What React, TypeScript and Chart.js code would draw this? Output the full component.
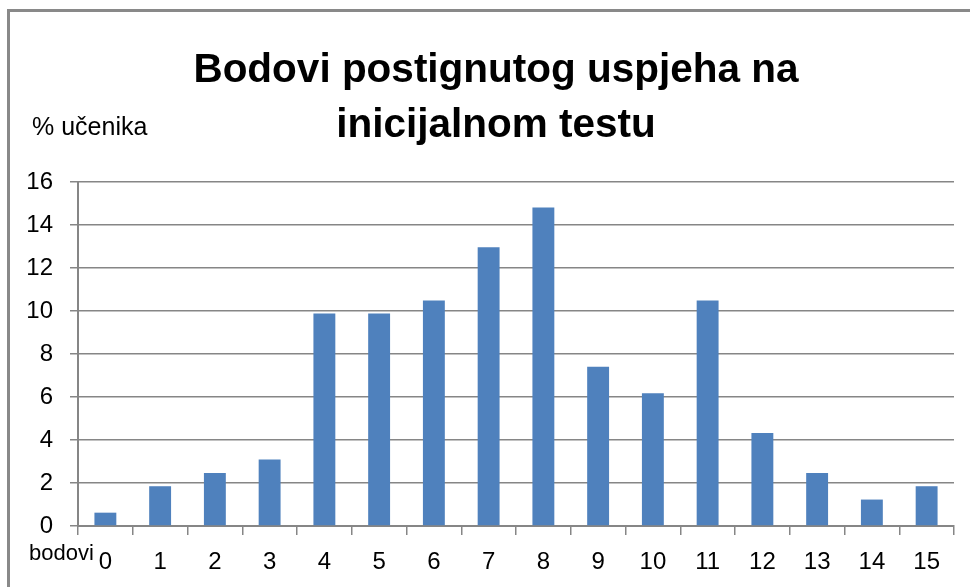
import React, { useEffect, useRef } from "react";
import { Chart, registerables } from "chart.js";

Chart.register(...registerables);

const categories = ["0", "1", "2", "3", "4", "5", "6", "7", "8", "9", "10", "11", "12", "13", "14", "15"];
const percentStudents = [0.62, 1.85, 2.47, 3.09, 9.88, 9.88, 10.49, 12.96, 14.81, 7.41, 6.17, 10.49, 4.32, 2.47, 1.23, 1.85];
const titleLines = ["Bodovi postignutog uspjeha na", "inicijalnom testu"];
const yAxisLabel = "% učenika";
const xAxisLabel = "bodovi";

const FONT = "'Liberation Sans', Arial, sans-serif";
const GRAY = "#868686";

const textPlugin = {
  id: "chartTexts",
  afterDraw(chart: any) {
    const ctx = chart.ctx;
    ctx.save();
    ctx.fillStyle = "#000";
    ctx.textAlign = "center";
    ctx.textBaseline = "middle";
    ctx.font = `bold 40.5px ${FONT}`;
    ctx.fillText(titleLines[0], 496, 70.5);
    ctx.fillText(titleLines[1], 496, 125.6);
    ctx.textAlign = "left";
    ctx.textBaseline = "alphabetic";
    ctx.font = `25px ${FONT}`;
    ctx.fillText(yAxisLabel, 32, 135);
    ctx.font = `22px ${FONT}`;
    ctx.fillText(xAxisLabel, 29, 560);
    ctx.restore();
  },
};

export default function App() {
  const ref = useRef<HTMLCanvasElement | null>(null);
  useEffect(() => {
    if (!ref.current) return;
    const chart = new Chart(ref.current, {
      type: "bar",
      data: {
        labels: categories,
        datasets: [
          {
            data: percentStudents,
            backgroundColor: "#4F81BD",
            borderWidth: 0,
            barPercentage: 0.8,
            categoryPercentage: 0.5,
          },
        ],
      },
      options: {
        animation: false,
        responsive: false,
        devicePixelRatio: 1,
        layout: { padding: { left: 0, right: 16, top: 182, bottom: 0 } },
        plugins: {
          legend: { display: false },
          tooltip: { enabled: false },
          title: { display: false },
        },
        scales: {
          x: {
            offset: true,
            grid: {
              offset: true,
              drawOnChartArea: false,
              drawTicks: true,
              tickLength: 9,
              color: GRAY,
              lineWidth: 1.5,
            },
            border: { color: GRAY, width: 2 },
            ticks: { color: "#000", font: { family: FONT, size: 24 }, padding: 13, maxRotation: 0, autoSkip: false },
            afterFit(scale: any) {
              scale.height = 61;
            },
          },
          y: {
            min: 0,
            max: 16,
            ticks: { stepSize: 2, color: "#000", font: { family: FONT, size: 24 }, padding: 17 },
            grid: { color: GRAY, tickLength: 8, lineWidth: 1.5 },
            border: { color: GRAY, width: 2 },
            afterFit(scale: any) {
              scale.width = 78;
            },
          },
        },
      },
      plugins: [textPlugin],
    });
    return () => chart.destroy();
  }, []);

  return (
    <div style={{ position: "fixed", left: 0, top: 0, width: 970, height: 587, background: "#fff", overflow: "hidden" }}>
      <canvas ref={ref} width={970} height={587} style={{ position: "absolute", left: 0, top: 0 }} />
      <div
        style={{
          position: "absolute",
          left: 7,
          top: 9,
          width: 1200,
          height: 800,
          border: `3px solid #898989`,
          pointerEvents: "none",
        }}
      />
    </div>
  );
}
